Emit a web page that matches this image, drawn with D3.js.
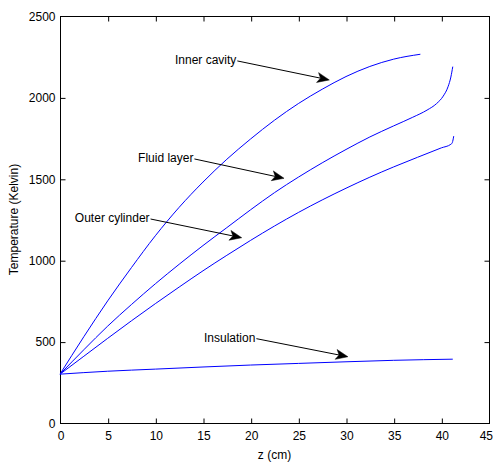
<!DOCTYPE html>
<html>
<head>
<meta charset="utf-8">
<script src="https://cdn.jsdelivr.net/npm/d3@7"></script>
<style>
  html, body { margin: 0; padding: 0; background: #fff; }
  svg { display: block; }
  text { font-family: "Liberation Sans", Arial, sans-serif; font-size: 12px; fill: #000; }
</style>
</head>
<body>
<svg id="chart" width="494" height="463"></svg>
<script>
// ---- data (z in cm, temperature in Kelvin) ----
const innerZ = [0, 2.5, 5, 7.5, 10, 12.5, 15, 17.5, 20, 22.5, 25, 27.5, 30, 32.5, 35, 37.8];
const innerT = [300, 530, 750, 955, 1150, 1325, 1480, 1620, 1745, 1860, 1962, 2050, 2128, 2190, 2235, 2265];

const fluidZ = [0, 2.5, 5, 7.5, 10, 12.5, 15, 17.5, 20, 22.5, 25, 27.5, 30, 32.5, 35, 37, 38.5, 39.5, 40.2, 40.7, 41.0, 41.2];
const fluidT = [300, 450, 595, 728, 855, 975, 1090, 1200, 1310, 1415, 1510, 1598, 1680, 1757, 1825, 1878, 1922, 1962, 2008, 2065, 2125, 2189];

const outerZ = [0, 2.5, 5, 7.5, 10, 12.5, 15, 17.5, 20, 22.5, 25, 27.5, 30, 32.5, 35, 37.5, 40, 41.0, 41.15, 41.3];
const outerT = [300, 410, 520, 628, 733, 835, 935, 1030, 1122, 1210, 1293, 1370, 1442, 1510, 1573, 1632, 1690, 1712, 1722, 1762];

const insulZ = [0, 5, 10, 15, 20, 25, 30, 35, 41.2];
const insulT = [300, 318, 331, 344, 356, 366, 376, 385, 392];

const xTicks = [0, 5, 10, 15, 20, 25, 30, 35, 40, 45];
const yTicks = [0, 500, 1000, 1500, 2000, 2500];

// annotation labels: text, leader start (z,T), arrow tip (z,T)
const annLabels = ["Inner cavity", "Fluid layer", "Outer cylinder", "Insulation"];
const annStartZ = [18.6, 14.1, 9.5, 20.6];
const annStartT = [2224, 1622, 1253, 518];
const annTipZ   = [28.25, 23.5, 19.06, 30.2];
const annTipT   = [2107, 1503, 1138, 407];

// ---- layout ----
const svg = d3.select("#chart");
const L = 60, R = 489, T = 16, B = 423;

const x = d3.scaleLinear().domain([0, 45]).range([L, R]);
const y = d3.scaleLinear().domain([0, 2500]).range([B, T]);

// axes box
svg.append("rect")
  .attr("x", L + 0.5).attr("y", T + 0.5)
  .attr("width", R - L).attr("height", B - T)
  .attr("fill", "#fff").attr("stroke", "#000").attr("stroke-width", 1);

const tickLen = 5;
const xAxisB = d3.axisBottom(x).tickValues(xTicks).tickSizeInner(-tickLen).tickSizeOuter(0).tickPadding(8).tickFormat(d3.format("d"));
const gxb = svg.append("g").attr("transform", `translate(0.5,${B + 0.5})`).call(xAxisB);
const xAxisT = d3.axisTop(x).tickValues(xTicks).tickSizeInner(-tickLen).tickSizeOuter(0).tickFormat("");
const gxt = svg.append("g").attr("transform", `translate(0.5,${T + 0.5})`).call(xAxisT);
const yAxisL = d3.axisLeft(y).tickValues(yTicks).tickSizeInner(-tickLen).tickSizeOuter(0).tickPadding(5).tickFormat(d3.format("d"));
const gyl = svg.append("g").attr("transform", `translate(${L + 0.5},0.5)`).call(yAxisL);
const yAxisR = d3.axisRight(y).tickValues(yTicks).tickSizeInner(-tickLen).tickSizeOuter(0).tickFormat("");
const gyr = svg.append("g").attr("transform", `translate(${R + 0.5},0.5)`).call(yAxisR);

[gxb, gxt, gyl, gyr].forEach(g => {
  g.select(".domain").remove();
  g.selectAll("line").attr("stroke", "#000");
  g.selectAll("text").attr("font-family", "'Liberation Sans', Arial, sans-serif").attr("font-size", 12).attr("fill", "#000");
});
gxb.selectAll(".tick").filter(d => d === 0 || d === 45).select("line").remove();
gxt.selectAll(".tick").filter(d => d === 0 || d === 45).select("line").remove();
gyl.selectAll(".tick").filter(d => d === 0 || d === 2500).select("line").remove();
gyr.selectAll(".tick").filter(d => d === 0 || d === 2500).select("line").remove();
// last x label sits at the window edge: keep it fully visible
gxb.selectAll(".tick").filter(d => d === 45).select("text").attr("text-anchor", "end").attr("dx", 3);

// axis labels
svg.append("text")
  .attr("x", (L + R) / 2).attr("y", 456)
  .attr("text-anchor", "middle").attr("dominant-baseline", "middle")
  .text("z (cm)");
svg.append("text")
  .attr("transform", `translate(15,${(T + B) / 2}) rotate(-90)`)
  .attr("text-anchor", "middle").attr("dominant-baseline", "middle")
  .text("Temperature (Kelvin)");

// curves
const series = [
  [innerZ, innerT],
  [fluidZ, fluidT],
  [outerZ, outerT],
  [insulZ, insulT]
];
const line = d3.line().x(d => x(d[0])).y(d => y(d[1])).curve(d3.curveMonotoneX);
series.forEach(([zs, ts]) => {
  const pts = zs.map((z, i) => [z, ts[i]]);
  svg.append("path")
    .datum(pts)
    .attr("d", line)
    .attr("fill", "none")
    .attr("stroke", "#0000ff")
    .attr("stroke-width", 1);
});

// annotations
annLabels.forEach((lab, i) => {
  const x0 = x(annStartZ[i]), y0 = y(annStartT[i]);
  const x1 = x(annTipZ[i]), y1 = y(annTipT[i]);
  svg.append("text")
    .attr("x", x0 - 1).attr("y", y0)
    .attr("text-anchor", "end").attr("dominant-baseline", "middle")
    .text(lab);
  const ang = Math.atan2(y1 - y0, x1 - x0);
  const len = 12, hw = 5, notch = 3;
  const ux = Math.cos(ang), uy = Math.sin(ang);
  const px = -uy, py = ux;
  const bx = x1 - ux * len, by = y1 - uy * len;
  const nx = x1 - ux * (len - notch), ny = y1 - uy * (len - notch);
  svg.append("line")
    .attr("x1", x0).attr("y1", y0).attr("x2", nx).attr("y2", ny)
    .attr("stroke", "#000").attr("stroke-width", 1);
  svg.append("path")
    .attr("d", `M${x1},${y1} L${bx + px * hw},${by + py * hw} L${nx},${ny} L${bx - px * hw},${by - py * hw} Z`)
    .attr("fill", "#000").attr("stroke", "#000").attr("stroke-width", 0.5);
});
</script>
</body>
</html>
